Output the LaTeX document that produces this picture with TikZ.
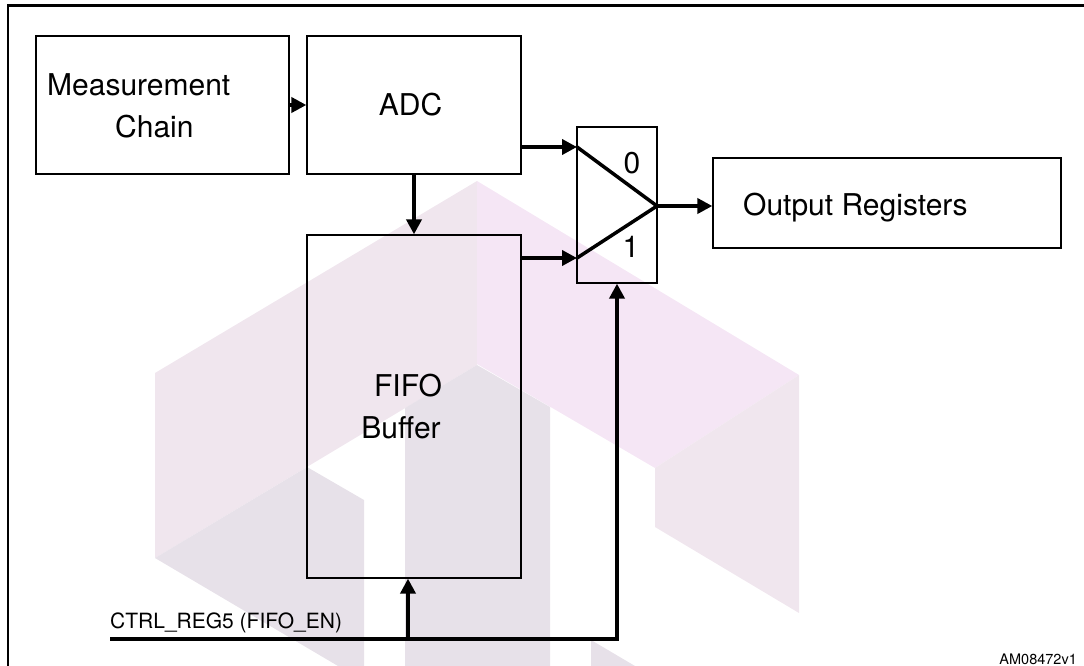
\documentclass[tikz,border=0pt]{standalone}
\usepackage{fontspec}
\setmainfont{TeX Gyre Heros}
\usetikzlibrary{arrows.meta}
\definecolor{wmPink}{RGB}{245,230,245}
\definecolor{wmFace}{RGB}{240,230,238}
\definecolor{wmGray}{RGB}{231,225,233}
\tikzset{
  blk/.style={draw=black, line width=1.3pt, inner sep=0pt, fill=none},
  lbl/.style={inner sep=0pt, font=\fontsize{30}{36}\selectfont},
  small/.style={inner sep=0pt, font=\fontsize{21}{25}\selectfont},
  tiny/.style={inner sep=0pt, font=\fontsize{14.5}{17}\selectfont},
  arr/.style={line width=4pt, -{Triangle[length=15pt,width=15pt]}},
  wire/.style={line width=4pt, line join=miter},
  muxline/.style={line width=3.5pt, line cap=round, line join=miter},
}
\begin{document}
\begin{tikzpicture}[x=1pt,y=-1pt]
\useasboundingbox (0,0) rectangle (1084,666);
% watermark
\fill[wmFace] (155,373) -- (477,181) -- (477,365) -- (155,558) -- cycle;
\fill[wmPink] (477,181) -- (799,375) -- (655,468) -- (477,364) -- cycle;
\fill[wmFace] (655,468) -- (799,375) -- (799,613) -- (655,527) -- cycle;
\fill[wmGray] (405,408) -- (477,365) -- (550,407) -- (550,666) -- (405,666) -- cycle;
\fill[wmGray] (155,558) -- (307,467) -- (364,500) -- (364,666) -- (338,666) -- cycle;
\fill[wmGray] (591,640) -- (635,666) -- (591,666) -- cycle;
% frame
\draw[line width=2.5pt] (8,666) -- (8,5.5) -- (1084,5.5);
% blocks
\node[blk, minimum width=253pt, minimum height=138pt] (meas) at (162.5,105) {};
\node[blk, minimum width=214pt, minimum height=138pt] (adc) at (414,105) {};
\node[blk, minimum width=214pt, minimum height=343pt] (fifo) at (414,406.5) {};
\node[blk, minimum width=80pt, minimum height=156pt] (mux) at (617,205) {};
\node[blk, minimum width=348pt, minimum height=90pt] (out) at (887,203) {};
% texts
\node[lbl, anchor=base west] (tmeas) at (47,95.5) {Measurement};
\node[lbl, anchor=base west] (tchain) at (115,137.5) {Chain};
\node[lbl, anchor=base] (tadc) at (410.5,116) {ADC};
\node[lbl, anchor=base] (tfifo) at (408,396) {FIFO};
\node[lbl, anchor=base] (tbuf) at (401,438) {Buffer};
\node[lbl, anchor=base west] (tout) at (743,215) {Output Registers};
\node[lbl, anchor=base] (tzero) at (632,173) {0};
\node[lbl, anchor=base] (tone) at (631,257) {1};
\node[small, anchor=base west] (tctrl) at (110,628) {CTRL\_REG5 (FIFO\_EN)};
\node[tiny, anchor=base east] (tid) at (1077,664) {AM08472v1};
% mux inputs
\coordinate (in0) at (577,147);
\coordinate (in1) at (577,258);
\coordinate (apex) at (657,206);
\coordinate (cstart) at (110,639);
\coordinate (branch) at (408,639);
% connectors
\draw[arr] (meas.east) -- (adc.west);
\draw[arr] (adc.south) -- (fifo.north);
\draw[arr] (adc.east |- in0) -- (in0);
\draw[arr] (fifo.east |- in1) -- (in1);
\draw[muxline] (in0) -- (apex) -- (in1);
\draw[arr] (apex) -- (out.west |- apex);
\draw[wire, -{Triangle[length=15pt,width=15pt]}] (cstart) -| (mux.south);
\draw[arr] (branch) -- (branch |- fifo.south);
\end{tikzpicture}
\end{document}
